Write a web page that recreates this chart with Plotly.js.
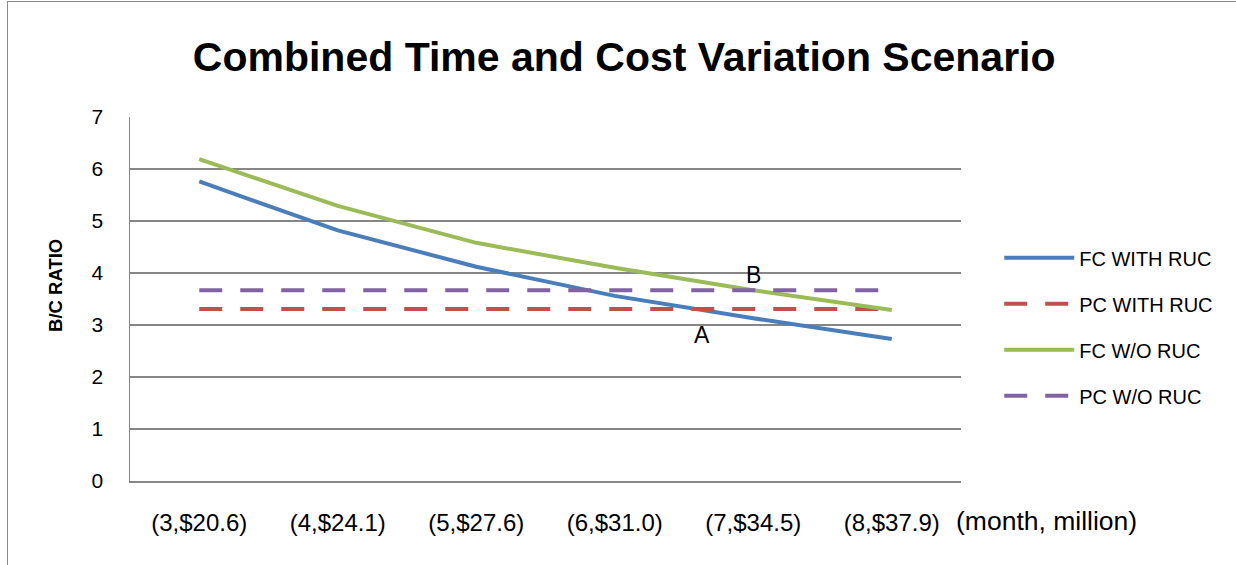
<!DOCTYPE html>
<html>
<head>
<meta charset="utf-8">
<script src="https://cdn.plot.ly/plotly-3.0.1.min.js"></script>
<style>
  html, body { margin: 0; padding: 0; background: #fff; }
  #wrap { position: relative; width: 1236px; height: 565px; overflow: hidden; }
  #chart { width: 1236px; height: 565px; }
  #frame { position: absolute; left: 7px; top: 1px; right: -5px; bottom: -5px;
           border-left: 1.5px solid #8a8a8a; border-top: 1.5px solid #8a8a8a; pointer-events: none; }
</style>
</head>
<body>
<div id="wrap"><div id="chart"></div><div id="frame"></div></div>
<script>
// ---- data ----
const categories = ['(3,$20.6)', '(4,$24.1)', '(5,$27.6)', '(6,$31.0)', '(7,$34.5)', '(8,$37.9)'];
const fcWithRuc = [5.76, 4.82, 4.12, 3.56, 3.13, 2.73];
const pcWithRuc = [3.31, 3.31, 3.31, 3.31, 3.31, 3.31];
const fcWithoutRuc = [6.19, 5.29, 4.58, 4.10, 3.67, 3.29];
const pcWithoutRuc = [3.67, 3.67, 3.67, 3.67, 3.67, 3.67];
const seriesNames = ['FC WITH RUC', 'PC WITH RUC', 'FC W/O RUC', 'PC W/O RUC'];
const yTicks = [0, 1, 2, 3, 4, 5, 6, 7];
const pointLabels = [
  { text: 'A', x: 3.63, y: 2.81 },
  { text: 'B', x: 4.0, y: 3.96 }
];

const FONT = 'Liberation Sans, Arial, sans-serif';
const dash = '23px,18px';
const mk = (y, name, color, dashed) => ({
  type: 'scatter', mode: 'lines', x: categories, y: y, name: name,
  legendgroup: name,
  line: { color: color, width: 4, dash: dashed ? dash : 'solid' },
  hoverinfo: 'skip'
});

const traces = [
  mk(fcWithRuc, seriesNames[0], '#4a7ebb', false),
  mk(pcWithRuc, seriesNames[1], '#c0504d', true),
  mk(fcWithoutRuc, seriesNames[2], '#9bbb59', false),
  mk(pcWithoutRuc, seriesNames[3], '#8064a2', true)
];

const annotations = pointLabels.map(p => ({
  text: p.text, x: p.x, y: p.y, xref: 'x', yref: 'y', showarrow: false,
  font: { family: FONT, size: 23, color: '#000' }
}));
annotations.push({
  text: '(month, million)', xref: 'paper', yref: 'paper', x: 0.991, y: 0,
  xanchor: 'left', yanchor: 'middle', yshift: -40, showarrow: false,
  font: { family: FONT, size: 26.5, color: '#000' }
});
annotations.push({
  text: '<b>B/C RATIO</b>', xref: 'paper', yref: 'paper', x: -0.089, y: 0.536,
  xanchor: 'center', yanchor: 'middle', textangle: -90, showarrow: false,
  font: { family: FONT, size: 18.5, color: '#000' }
});

const layout = {
  width: 1236, height: 565,
  margin: { l: 130, r: 275, t: 117, b: 84 },
  paper_bgcolor: '#fff', plot_bgcolor: '#fff',
  showlegend: true,
  title: {
    text: 'Combined Time and Cost Variation Scenario',
    font: { family: FONT, size: 41, color: '#000', weight: 'bold' },
    x: 0.505, xref: 'container', xanchor: 'center',
    y: 0.9, yref: 'container', yanchor: 'middle'
  },
  xaxis: {
    type: 'category', range: [-0.5, 5.5],
    showline: true, linecolor: '#868686', linewidth: 1.5,
    showgrid: false, zeroline: false, ticks: '',
    tickfont: { family: FONT, size: 24, color: '#000' },
    ticklabelstandoff: 20
  },
  yaxis: {
    range: [0, 7], tickvals: yTicks, ticktext: yTicks.map(String),
    showline: true, linecolor: '#868686', linewidth: 1.5,
    showgrid: true, gridcolor: '#868686', gridwidth: 1.3,
    zeroline: false, ticks: '',
    tickfont: { family: FONT, size: 21, color: '#000' },
    ticklabelstandoff: 21
  },
  legend: {
    x: 1.046, xanchor: 'left', y: 0.667, yanchor: 'top',
    font: { family: FONT, size: 20, color: '#000' },
    itemwidth: 70, tracegroupgap: 17, bgcolor: 'rgba(0,0,0,0)'
  },
  annotations: annotations
};

Plotly.newPlot('chart', traces, layout, { displayModeBar: false, staticPlot: true });
</script>
</body>
</html>
